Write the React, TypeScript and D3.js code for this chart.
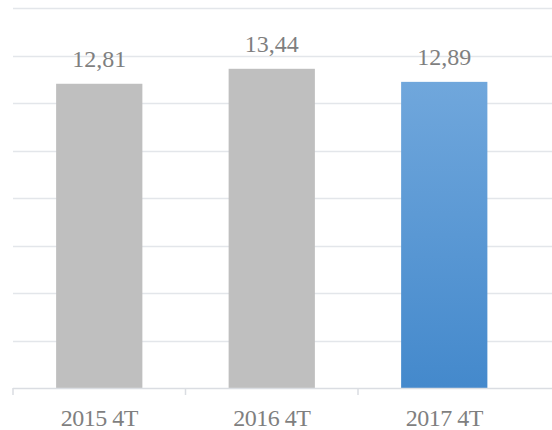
import React from "react";
import * as d3 from "d3";

const categories = ["2015 4T", "2016 4T", "2017 4T"];
const values = [12.81, 13.44, 12.89];
const labels = ["12,81", "13,44", "12,89"];
const yTicks = [0, 2, 4, 6, 8, 10, 12, 14, 16];

const W = 552;
const H = 430;

export default function App() {
  const x = d3.scaleBand<string>().domain(categories).range([13, 530.5]).paddingInner(0.5).paddingOuter(0.25);
  const y = d3.scaleLinear().domain([0, 16]).range([388, 8]);
  const step = x.step();
  const font = "'Liberation Serif', 'Times New Roman', serif";
  const boundaries = [0, 1, 2].map((i) => 13 + i * step);
  return (
    <svg width={W} height={H} style={{ position: "absolute", left: 0, top: 0 }}>
      <defs>
        <linearGradient id="blueGrad" x1="0" y1="0" x2="0" y2="1">
          <stop offset="0%" stopColor="#70a7dc" />
          <stop offset="100%" stopColor="#4489cc" />
        </linearGradient>
      </defs>
      <rect width={W} height={H} fill="#ffffff" />
      {yTicks.slice(1).map((t) => (
        <line key={t} x1={13} x2={W} y1={Math.round(y(t)) + 0.5} y2={Math.round(y(t)) + 0.5} stroke="#e3e6ea" strokeWidth={1.5} />
      ))}
      {categories.map((c, i) => (
        <rect
          key={c}
          x={x(c)}
          y={y(values[i])}
          width={x.bandwidth()}
          height={y(0) - y(values[i])}
          fill={i === 2 ? "url(#blueGrad)" : "#bfbfbf"}
        />
      ))}
      <line x1={13} x2={W} y1={388.5} y2={388.5} stroke="#dadde2" strokeWidth={1.5} />
      {boundaries.map((b, i) => (
        <line key={i} x1={b} x2={b} y1={388} y2={395} stroke="#dadde2" strokeWidth={1.5} />
      ))}
      {categories.map((c, i) => (
        <text
          key={"v" + c}
          x={(x(c) ?? 0) + x.bandwidth() / 2}
          y={y(values[i]) - 17}
          textAnchor="middle"
          fontFamily={font}
          fontSize={24}
          fill="#7f7f7f"
        >
          {labels[i]}
        </text>
      ))}
      {categories.map((c) => (
        <text
          key={"c" + c}
          x={(x(c) ?? 0) + x.bandwidth() / 2}
          y={426}
          textAnchor="middle"
          fontFamily={font}
          fontSize={24}
          letterSpacing={-0.5}
          fill="#7f7f7f"
        >
          {c}
        </text>
      ))}
    </svg>
  );
}
